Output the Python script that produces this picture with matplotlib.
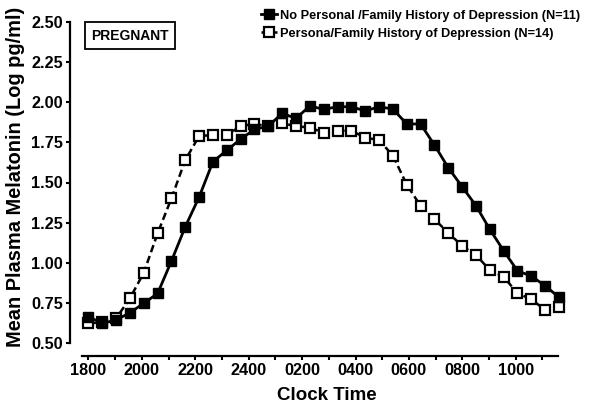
import matplotlib
matplotlib.use("Agg")
import matplotlib.pyplot as plt
import numpy as np

plt.rcParams['font.family'] = ['Liberation Sans', 'DejaVu Sans']
plt.rcParams['font.weight'] = 'bold'

# Clock times of samples (every 30 min from 1800 to 1100 next day)
clock_times = ["1800", "1830", "1900", "1930", "2000", "2030", "2100", "2130",
               "2200", "2230", "2300", "2330", "2400", "0030", "0100", "0130",
               "0200", "0230", "0300", "0330", "0400", "0430", "0500", "0530",
               "0600", "0630", "0700", "0730", "0800", "0830", "0900", "0930",
               "1000", "1030", "1100"]

no_history = [0.665, 0.624, 0.645, 0.690, 0.749, 0.810, 1.012, 1.225, 1.410,
              1.630, 1.700, 1.770, 1.830, 1.851, 1.930, 1.899, 1.976, 1.955,
              1.971, 1.971, 1.945, 1.971, 1.957, 1.864, 1.864, 1.733, 1.592,
              1.474, 1.356, 1.209, 1.076, 0.951, 0.918, 0.858, 0.786]

with_history = [0.624, 0.630, 0.655, 0.780, 0.939, 1.184, 1.402, 1.640, 1.789,
                1.795, 1.795, 1.851, 1.864, 1.850, 1.868, 1.851, 1.841, 1.810,
                1.822, 1.822, 1.779, 1.764, 1.667, 1.487, 1.354, 1.271, 1.188,
                1.105, 1.049, 0.956, 0.914, 0.811, 0.774, 0.707, 0.724]

x_tick_labels = ["1800", "", "2000", "", "2200", "", "2400", "", "0200", "",
                 "0400", "", "0600", "", "0800", "", "1000", ""]
y_ticks = [0.50, 0.75, 1.00, 1.25, 1.50, 1.75, 2.00, 2.25, 2.50]

label_a = "No Personal /Family History of Depression (N=11)"
label_b = "Persona/Family History of Depression (N=14)"

# sample index positions
x = np.arange(len(clock_times))
# hourly tick spacing in sample units (as drawn in the original)
tick_step = 26.4 / 13.68
tick_pos = np.arange(len(x_tick_labels)) * tick_step

W, H = 601, 407
fig = plt.figure(figsize=(W / 100, H / 100), dpi=100)
left_px, right_px, top_px, bot_px = 81.7, 558, 21.7, 343.3
ax = fig.add_axes([left_px / W, 1 - bot_px / H, (right_px - left_px) / W, (bot_px - top_px) / H])

ax.plot(x, no_history, color='black', lw=2.0, marker='s', ms=7.0,
        mfc='black', mec='black', clip_on=False, zorder=3, label=label_a)
ax.plot(x, with_history, color='black', lw=1.8, ls=(0, (3, 1.6)), marker='s', ms=6.8,
        mfc='white', mec='black', mew=1.6, clip_on=False, zorder=2, label=label_b)

ax.set_xlim(-0.486, 33.93)
ax.set_ylim(0.5, 2.5)
ax.set_yticks(y_ticks)
ax.set_yticklabels([f"{v:.2f}" for v in y_ticks])
ax.set_xticks(tick_pos)
ax.set_xticklabels(x_tick_labels)

for s in ['top', 'right']:
    ax.spines[s].set_visible(False)
ax.spines['left'].set_position(('outward', 8.4))
ax.spines['bottom'].set_position(('outward', 8.9))
for s in ['left', 'bottom']:
    ax.spines[s].set_linewidth(1.6)
ax.tick_params(axis='both', direction='out', length=3.2, width=1.5, labelsize=11.7, pad=2)
for lab in ax.get_xticklabels() + ax.get_yticklabels():
    lab.set_fontweight('bold')

fig.text(327 / W, 1 - 396 / H, "Clock Time", ha='center', va='center',
         fontsize=13.5, fontweight='bold')
fig.text(15.5 / W, 1 - 176.5 / H, "Mean Plasma Melatonin (Log pg/ml)", ha='center',
         va='center', rotation=90, fontsize=14.4, fontweight='bold')

leg = ax.legend(loc='upper left', bbox_to_anchor=(261 / W, 1 - 9.5 / H),
                bbox_transform=fig.transFigure, frameon=False, fontsize=9.15,
                handlelength=1.25, handletextpad=0.25, labelspacing=0.5,
                borderaxespad=0, borderpad=0)
for t in leg.get_texts():
    t.set_fontweight('bold')

fig.text(130 / W, 1 - 35.5 / H, "PREGNANT", ha='center', va='center', fontsize=10,
         fontweight='bold',
         bbox=dict(boxstyle='square,pad=0.45', fc='white', ec='black', lw=1.3))

fig.savefig("out.png", dpi=100)
